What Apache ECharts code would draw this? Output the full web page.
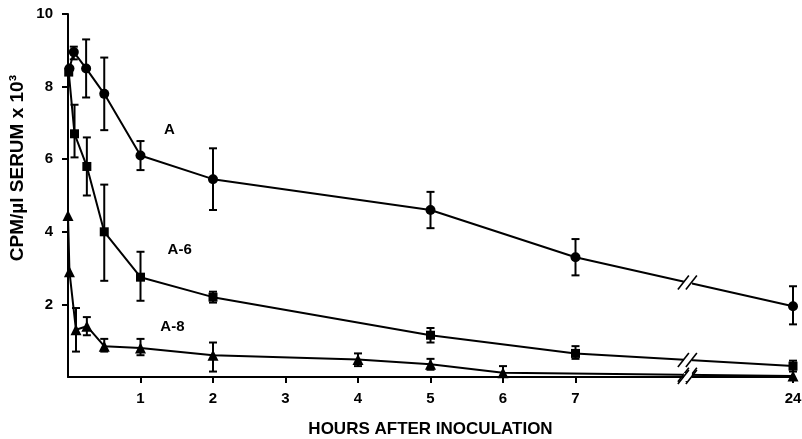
<!DOCTYPE html>
<html>
<head>
<meta charset="utf-8">
<script src="https://cdn.jsdelivr.net/npm/echarts@6/dist/echarts.min.js"></script>
<style>
  html, body { margin: 0; padding: 0; background: #fff; }
  #chart { width: 802px; height: 439px; }
</style>
</head>
<body>
<div id="chart"></div>
<script>
// hours after inoculation, values in CPM/ul x 10^3
const hoursA = [0.02, 0.08, 0.25, 0.5, 1, 2, 5, 7, 24]
const valuesA = [8.5, 8.95, 8.5, 7.8, 6.1, 5.45, 4.6, 3.3, 1.95]
const lowA = [null, 8.75, 7.7, 6.8, 5.7, 4.6, 4.1, 2.8, 1.45]
const highA = [null, 9.1, 9.3, 8.8, 6.5, 6.3, 5.1, 3.8, 2.5]

const hoursA6 = [0.01, 0.09, 0.26, 0.5, 1, 2, 5, 7, 24]
const valuesA6 = [8.4, 6.7, 5.8, 4.0, 2.75, 2.2, 1.15, 0.65, 0.3]
const lowA6 = [null, 6.05, 5.0, 2.65, 2.1, 2.05, 0.95, 0.5, 0.15]
const highA6 = [null, 7.5, 6.6, 5.3, 3.45, 2.35, 1.35, 0.85, 0.45]

const hoursA8 = [0, 0.02, 0.11, 0.26, 0.5, 1, 2, 4, 5, 6, 24]
const valuesA8 = [4.45, 2.9, 1.3, 1.4, 0.85, 0.8, 0.6, 0.48, 0.35, 0.12, 0.03]
const lowA8 = [null, null, 0.7, 1.15, 0.7, 0.6, 0.15, 0.3, 0.2, 0.0, null]
const highA8 = [null, null, 1.9, 1.65, 1.05, 1.05, 0.95, 0.65, 0.5, 0.3, null]

const xTickLabels = [1, 2, 3, 4, 5, 6, 7, 24]
const yTickLabels = [2, 4, 6, 8, 10]

// the axis is broken after 7 h, 24 h sits where 10 would be
const BREAK_POS = 8.55
const pos = h => (h > 7 ? 10 : h)
const lblFont = 'Liberation Sans'

const chart = echarts.init(document.getElementById('chart'))

function lineData(hours, values) {
  return hours.map((h, i) => [pos(h), values[i]])
}
function errData(hours, low, high) {
  let out = []
  hours.forEach((h, i) => {
    if (low[i] != null) out.push([pos(h), low[i], high[i]])
  })
  return out
}
// y of each line where it crosses the break
function breakY(hours, values) {
  let n = hours.length
  let x0 = pos(hours[n - 2]), x1 = pos(hours[n - 1])
  let y0 = values[n - 2], y1 = values[n - 1]
  return y0 + (y1 - y0) * (BREAK_POS - x0) / (x1 - x0)
}

function renderErr(params, api) {
  let x = api.value(0)
  let lo = api.coord([x, api.value(1)])
  let hi = api.coord([x, api.value(2)])
  let cap = 4
  let st = { stroke: '#000', lineWidth: 2 }
  return {
    type: 'group',
    children: [
      { type: 'line', shape: { x1: lo[0], y1: lo[1], x2: hi[0], y2: hi[1] }, style: st },
      { type: 'line', shape: { x1: lo[0] - cap, y1: lo[1], x2: lo[0] + cap, y2: lo[1] }, style: st },
      { type: 'line', shape: { x1: hi[0] - cap, y1: hi[1], x2: hi[0] + cap, y2: hi[1] }, style: st }
    ]
  }
}

function renderBreak(params, api) {
  let p = api.coord([api.value(0), api.value(1)])
  let st = { stroke: '#000', lineWidth: 1.6 }
  return {
    type: 'group',
    children: [
      { type: 'rect', shape: { x: p[0] - 4, y: p[1] - 4, width: 8, height: 8 }, style: { fill: '#fff' } },
      { type: 'line', shape: { x1: p[0] - 10, y1: p[1] + 7, x2: p[0] + 1, y2: p[1] - 7 }, style: st },
      { type: 'line', shape: { x1: p[0] - 2, y1: p[1] + 7, x2: p[0] + 9, y2: p[1] - 7 }, style: st }
    ]
  }
}

const lineStyle = { color: '#000', width: 2 }
const itemStyle = { color: '#000' }

function lineSeries(name, hours, values, symbol, size, tag) {
  return {
    name: name,
    type: 'line',
    data: lineData(hours, values),
    symbol: symbol,
    symbolSize: size,
    showAllSymbol: true,
    lineStyle: lineStyle,
    itemStyle: itemStyle,
    z: 3,
    markPoint: {
      symbol: 'rect',
      symbolSize: 1,
      itemStyle: { color: 'rgba(0,0,0,0)' },
      data: [{ coord: tag, value: name }],
      label: {
        show: true, position: 'inside', formatter: name, color: '#000',
        fontFamily: lblFont, fontWeight: 'bold', fontSize: 15
      }
    }
  }
}

const option = {
  animation: false,
  backgroundColor: '#fff',
  grid: { left: 68, right: 9, top: 14, bottom: 62, outerBoundsMode: 'none' },
  xAxis: {
    type: 'value',
    min: 0, max: 10, interval: 1,
    name: 'HOURS AFTER INOCULATION',
    nameLocation: 'middle',
    nameGap: 44,
    nameTextStyle: { color: '#000', fontFamily: lblFont, fontWeight: 'bold', fontSize: 17 },
    splitLine: { show: false },
    axisLine: { lineStyle: { color: '#000', width: 2 } },
    axisTick: { length: 6, lineStyle: { color: '#000', width: 2 }, customValues: xTickLabels.map(pos) },
    axisLabel: {
      customValues: xTickLabels.map(pos),
      formatter: v => (v === 10 ? '24' : String(v)),
      color: '#000', fontFamily: lblFont, fontWeight: 'bold', fontSize: 15, margin: 14
    }
  },
  yAxis: {
    type: 'value',
    min: 0, max: 10, interval: 2,
    splitLine: { show: false },
    axisLine: { show: true, lineStyle: { color: '#000', width: 2 } },
    axisTick: { show: true, length: 6, lineStyle: { color: '#000', width: 2 }, customValues: yTickLabels },
    axisLabel: {
      customValues: yTickLabels,
      color: '#000', fontFamily: lblFont, fontWeight: 'bold', fontSize: 15, margin: 15
    }
  },
  graphic: [{
    type: 'text',
    left: 8,
    top: 75,
    rotation: Math.PI / 2,
    style: {
      text: 'CPM/\u00b5l SERUM x 10\u00b3',
      fill: '#000',
      font: 'bold 19px "Liberation Sans"'
    }
  }],
  series: [
    lineSeries('A', hoursA, valuesA, 'circle', 10, [1.4, 6.8]),
    lineSeries('A-6', hoursA6, valuesA6, 'rect', 9, [1.54, 3.5]),
    lineSeries('A-8', hoursA8, valuesA8, 'triangle', 11, [1.44, 1.38]),
    {
      type: 'custom', renderItem: renderErr, z: 4,
      data: errData(hoursA, lowA, highA)
        .concat(errData(hoursA6, lowA6, highA6))
        .concat(errData(hoursA8, lowA8, highA8))
    },
    {
      type: 'custom', renderItem: renderBreak, z: 5, clip: false,
      data: [
        [BREAK_POS, breakY(hoursA, valuesA)],
        [BREAK_POS, breakY(hoursA6, valuesA6)],
        [BREAK_POS, breakY(hoursA8, valuesA8)],
        [BREAK_POS, 0]
      ]
    }
  ]
}

chart.setOption(option)
</script>
</body>
</html>
